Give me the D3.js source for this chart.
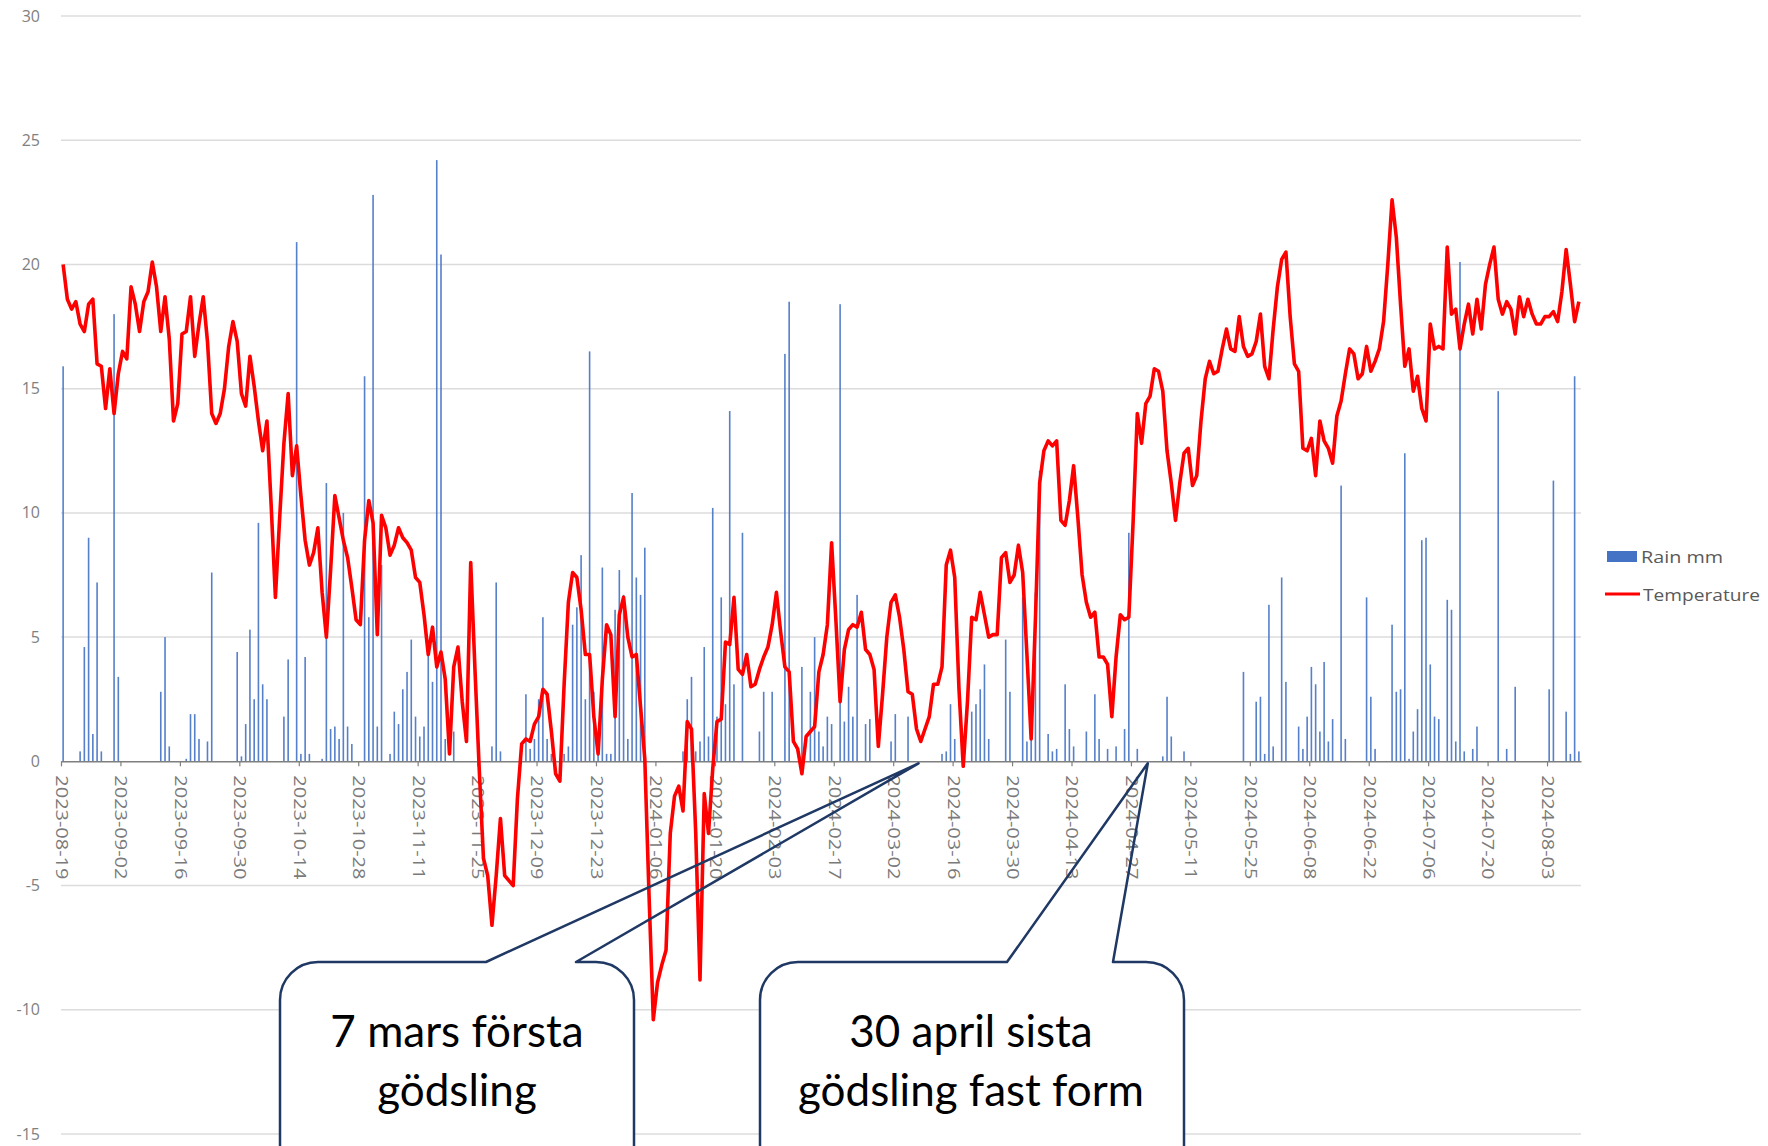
<!DOCTYPE html>
<html>
<head>
<meta charset="utf-8">
<script src="https://cdn.jsdelivr.net/npm/d3@7"></script>
<style>
  body { margin: 0; background: #fff; }
  svg { display: block; }
</style>
</head>
<body>
<script>
// daily values from 2023-08-19, one row = two weeks
var startDate = "2023-08-19";

var temperature = [
  20.0, 18.6, 18.2, 18.5, 17.6, 17.3, 18.4, 18.6, 16.0, 15.9, 14.2, 15.8, 14.0, 15.6,
  16.5, 16.2, 19.1, 18.4, 17.3, 18.5, 18.9, 20.1, 19.1, 17.3, 18.7, 17.0, 13.7, 14.4,
  17.2, 17.3, 18.7, 16.3, 17.6, 18.7, 16.9, 14.0, 13.6, 14.0, 15.0, 16.7, 17.7, 16.9,
  14.8, 14.3, 16.3, 15.1, 13.7, 12.5, 13.7, 10.3, 6.6, 9.8, 12.8, 14.8, 11.5, 12.7,
  10.7, 8.9, 7.9, 8.4, 9.4, 6.8, 5.0, 7.7, 10.7, 9.8, 8.9, 8.2, 7.0, 5.7,
  5.5, 8.9, 10.5, 9.6, 5.1, 9.9, 9.4, 8.3, 8.7, 9.4, 9.0, 8.8, 8.5, 7.4,
  7.2, 5.9, 4.3, 5.4, 3.8, 4.4, 3.3, 0.3, 3.8, 4.6, 2.4, 0.8, 8.0, 3.7,
  -0.3, -3.9, -4.6, -6.6, -4.6, -2.3, -4.6, -4.8, -5.0, -1.5, 0.7, 0.9, 0.8, 1.5,
  1.8, 2.9, 2.7, 1.2, -0.5, -0.8, 3.1, 6.4, 7.6, 7.4, 6.1, 4.3, 4.3, 1.8,
  0.3, 3.3, 5.5, 5.1, 1.8, 5.9, 6.6, 5.0, 4.2, 4.3, 2.2, 0.1, -5.4, -10.4,
  -8.9, -8.2, -7.6, -2.9, -1.4, -1.0, -2.0, 1.6, 1.3, -2.9, -8.8, -1.3, -2.9, -0.3,
  1.6, 1.7, 4.8, 4.7, 6.6, 3.7, 3.5, 4.3, 3.0, 3.1, 3.7, 4.2, 4.6, 5.5,
  6.8, 5.2, 3.8, 3.6, 0.8, 0.5, -0.5, 1.0, 1.2, 1.4, 3.6, 4.3, 5.5, 8.8,
  5.7, 2.4, 4.5, 5.3, 5.5, 5.4, 6.0, 4.5, 4.3, 3.7, 0.6, 2.7, 5.0, 6.4,
  6.7, 5.8, 4.5, 2.8, 2.7, 1.3, 0.8, 1.3, 1.8, 3.1, 3.1, 3.8, 7.9, 8.5,
  7.4, 2.9, -0.2, 2.4, 5.8, 5.7, 6.8, 5.9, 5.0, 5.1, 5.1, 8.2, 8.4, 7.2,
  7.5, 8.7, 7.6, 4.3, 0.9, 5.7, 11.2, 12.5, 12.9, 12.7, 12.9, 9.7, 9.5, 10.5,
  11.9, 9.8, 7.5, 6.4, 5.8, 6.0, 4.2, 4.2, 3.9, 1.8, 4.2, 5.9, 5.7, 5.8,
  9.6, 14.0, 12.8, 14.4, 14.7, 15.8, 15.7, 14.9, 12.5, 11.2, 9.7, 11.2, 12.4, 12.6,
  11.1, 11.5, 13.7, 15.4, 16.1, 15.6, 15.7, 16.6, 17.4, 16.6, 16.5, 17.9, 16.7, 16.3,
  16.4, 16.9, 18.0, 15.9, 15.4, 17.4, 19.1, 20.2, 20.5, 17.9, 16.0, 15.7, 12.6, 12.5,
  13.0, 11.5, 13.7, 12.9, 12.6, 12.0, 13.9, 14.5, 15.6, 16.6, 16.4, 15.4, 15.6, 16.7,
  15.7, 16.1, 16.6, 17.7, 20.0, 22.6, 21.1, 18.4, 15.9, 16.6, 14.9, 15.5, 14.2, 13.7,
  17.6, 16.6, 16.7, 16.6, 20.7, 18.0, 18.2, 16.6, 17.6, 18.4, 17.2, 18.6, 17.4, 19.2,
  20.0, 20.7, 18.6, 18.0, 18.5, 18.2, 17.2, 18.7, 17.9, 18.6, 18.0, 17.6, 17.6, 17.9,
  17.9, 18.1, 17.7, 18.9, 20.6, 19.2, 17.7, 18.5
];

var rainMm = [
  15.9, 0, 0, 0, 0.4, 4.6, 9.0, 1.1, 7.2, 0.4, 0, 0, 18.0, 3.4,
  0, 0, 0, 0, 0, 0, 0, 0, 0, 2.8, 5.0, 0.6, 0, 0,
  0, 0.1, 1.9, 1.9, 0.9, 0, 0.8, 7.6, 0, 0, 0, 0, 0, 4.4,
  0.2, 1.5, 5.3, 2.5, 9.6, 3.1, 2.5, 0, 0, 0, 1.8, 4.1, 0, 20.9,
  0.3, 4.2, 0.3, 0, 0, 0.1, 11.2, 1.3, 1.4, 0.9, 10.0, 1.4, 0.7, 0,
  0, 15.5, 5.8, 22.8, 1.4, 7.9, 0, 0.3, 2.0, 1.5, 2.9, 3.6, 4.9, 1.8,
  1.0, 1.4, 4.5, 3.2, 24.2, 20.4, 0.9, 0, 1.2, 0, 0, 0, 0, 0,
  0, 0, 0, 0.6, 7.2, 0.4, 0, 0, 0, 0, 0, 2.7, 0.5, 0.9,
  2.5, 5.8, 0.9, 0.3, 0, 0, 0.3, 0.6, 5.5, 6.2, 8.3, 2.5, 16.5, 2.8,
  0.5, 7.8, 0.3, 0.3, 6.1, 7.7, 6.7, 0.9, 10.8, 7.4, 6.7, 8.6, 0, 0,
  0, 0, 0, 0, 0, 0, 0.4, 2.5, 3.4, 0.4, 0.8, 4.6, 1.0, 10.2,
  1.8, 6.6, 2.3, 14.1, 3.1, 0, 9.2, 0, 0, 0, 1.2, 2.8, 0, 2.8,
  0, 0, 16.4, 18.5, 0, 0, 3.8, 0, 2.8, 5.0, 1.2, 0.6, 1.8, 1.5,
  0, 18.4, 1.6, 3.0, 1.8, 6.7, 0, 1.5, 1.7, 0, 0, 0, 0, 0.8,
  1.9, 0, 0, 1.8, 0, 0, 0, 0, 0, 0, 0, 0.3, 0.4, 2.3,
  0.9, 0, 0, 0, 2.0, 2.3, 2.9, 3.9, 0.9, 0, 0, 0, 4.9, 2.8,
  0, 0, 6.6, 0.8, 0.9, 6.8, 11.7, 0, 1.1, 0.4, 0.5, 0, 3.1, 1.3,
  0.6, 0, 0, 1.2, 0, 2.7, 0.9, 0, 0.5, 0, 0.6, 0, 1.3, 9.2,
  0, 0.5, 0, 0, 0, 0, 0, 0.2, 2.6, 1.0, 0, 0, 0.4, 0,
  0, 0, 0, 0, 0, 0, 0, 0, 0, 0, 0, 0, 3.6, 0,
  0, 2.4, 2.6, 0.3, 6.3, 0.6, 0, 7.4, 3.2, 0, 0, 1.4, 0.5, 1.8,
  3.8, 3.1, 1.2, 4.0, 0.8, 1.7, 0, 11.1, 0.9, 0, 0, 0, 0, 6.6,
  2.6, 0.5, 0, 0, 0, 5.5, 2.8, 2.9, 12.4, 0.1, 1.2, 2.1, 8.9, 9.0,
  3.9, 1.8, 1.7, 0, 6.5, 6.1, 0.8, 20.1, 0.4, 0, 0.5, 1.4, 0, 0,
  0, 0, 14.9, 0, 0.5, 0, 3.0, 0, 0, 0, 0, 0, 0, 0,
  2.9, 11.3, 0, 0, 2.0, 0.3, 15.5, 0.4
];

var xTickLabels = ["2023-08-19", "2023-09-02", "2023-09-16", "2023-09-30", "2023-10-14",
  "2023-10-28", "2023-11-11", "2023-11-25", "2023-12-09", "2023-12-23", "2024-01-06",
  "2024-01-20", "2024-02-03", "2024-02-17", "2024-03-02", "2024-03-16", "2024-03-30",
  "2024-04-13", "2024-04-27", "2024-05-11", "2024-05-25", "2024-06-08", "2024-06-22",
  "2024-07-06", "2024-07-20", "2024-08-03"];
var yTicks = [30, 25, 20, 15, 10, 5, 0, -5, -10, -15];
var seriesNames = ["Rain mm", "Temperature"];

var callouts = [
  { lines: ["7 mars första", "gödsling"], date: "2024-03-07" },
  { lines: ["30 april sista", "gödsling fast form"], date: "2024-04-30" }
];

var W = 1768, H = 1146;
var parse = d3.utcParse("%Y-%m-%d");
var day0 = parse(startDate);
var DAY = 864e5;

var x = d3.scaleUtc()
  .domain([day0, new Date(+day0 + temperature.length * DAY)])
  .range([61, 1581]);
var y = d3.scaleLinear().domain([-15, 30]).range([1134, 16]);

// points sit in the middle of their day
var xDay = function(i) { return x(new Date(+day0 + (i + 0.5) * DAY)); };

var svg = d3.select("body").append("svg")
  .attr("width", W).attr("height", H)
  .attr("font-family", "'Open Sans', sans-serif");

svg.append("rect").attr("width", W).attr("height", H).attr("fill", "#fff");

// grid
svg.append("g").selectAll("line")
  .data(yTicks.filter(function(d) { return d !== 0; }))
  .join("line")
    .attr("x1", 61).attr("x2", 1581)
    .attr("y1", function(d) { return y(d); })
    .attr("y2", function(d) { return y(d); })
    .attr("stroke", "#dcdcdc")
    .attr("stroke-width", 1.5);

svg.append("g").selectAll("text")
  .data(yTicks)
  .join("text")
    .attr("x", 40)
    .attr("y", function(d) { return y(d); })
    .attr("dy", "0.35em")
    .attr("text-anchor", "end")
    .attr("font-size", 16)
    .attr("fill", "#808080")
    .text(function(d) { return d; });

// rain bars
svg.append("g").selectAll("rect")
  .data(rainMm.map(function(v, i) { return { i: i, v: v }; }).filter(function(d) { return d.v > 0; }))
  .join("rect")
    .attr("x", function(d) { return xDay(d.i) - 0.8; })
    .attr("width", 1.6)
    .attr("y", function(d) { return y(d.v); })
    .attr("height", function(d) { return y(0) - y(d.v); })
    .attr("fill", "#4472c4")
    .attr("fill-opacity", 0.9);

// x axis
var xAxis = d3.axisBottom(x)
  .tickValues(xTickLabels.map(parse))
  .tickFormat(d3.utcFormat("%Y-%m-%d"))
  .tickSize(5)
  .tickSizeOuter(0);

var ax = svg.append("g")
  .attr("transform", "translate(0," + y(0) + ")")
  .call(xAxis);
ax.select(".domain").attr("stroke", "#7f7f7f").attr("stroke-width", 1.5);
ax.selectAll(".tick line").attr("stroke", "#7f7f7f").attr("stroke-width", 1.2);
ax.selectAll(".tick text")
  .attr("font-family", "'Open Sans', sans-serif")
  .attr("font-size", 16)
  .attr("fill", "#7a7a7a")
  .attr("text-anchor", "start")
  .attr("transform", "rotate(90)")
  .attr("x", 14)
  .attr("y", 0)
  .attr("dy", "0.35em")
  .attr("textLength", 104)
  .attr("lengthAdjust", "spacingAndGlyphs");

// temperature line
var line = d3.line()
  .x(function(d, i) { return xDay(i); })
  .y(function(d) { return y(d); });

svg.append("path")
  .datum(temperature)
  .attr("d", line)
  .attr("fill", "none")
  .attr("stroke", "#ff0000")
  .attr("stroke-width", 3.6)
  .attr("stroke-linejoin", "round");

// legend
var lg = svg.append("g").attr("font-size", 17).attr("fill", "#595959");
lg.append("rect").attr("x", 1607).attr("y", 551).attr("width", 30).attr("height", 11).attr("fill", "#4472c4");
lg.append("text").attr("x", 1641).attr("y", 563).attr("textLength", 82)
  .attr("lengthAdjust", "spacingAndGlyphs").text(seriesNames[0]);
lg.append("line").attr("x1", 1605).attr("x2", 1640).attr("y1", 594).attr("y2", 594)
  .attr("stroke", "#ff0000").attr("stroke-width", 3);
lg.append("text").attr("x", 1643).attr("y", 601).attr("textLength", 117)
  .attr("lengthAdjust", "spacingAndGlyphs").text(seriesNames[1]);

// callouts
var boxes = [
  { left: 280, right: 634, top: 962, baseA: 486, baseB: 576, cx: 457 },
  { left: 760, right: 1184, top: 962, baseA: 1007, baseB: 1113, cx: 971 }
];
var r = 38, bottom = 1200;

callouts.forEach(function(c, k) {
  var b = boxes[k];
  var di = Math.round((parse(c.date) - day0) / DAY);
  var tipX = xDay(di) + 2;
  var tipY = y(0) + 2;
  var g = svg.append("g");
  g.append("path")
    .attr("d", "M" + b.left + "," + bottom + "V" + (b.top + r) +
      "A" + r + "," + r + " 0 0 1 " + (b.left + r) + "," + b.top +
      "H" + (b.right - r) +
      "A" + r + "," + r + " 0 0 1 " + b.right + "," + (b.top + r) +
      "V" + bottom + "Z")
    .attr("fill", "#fff");
  g.append("path")
    .attr("d", "M" + b.left + "," + bottom + "V" + (b.top + r) +
      "A" + r + "," + r + " 0 0 1 " + (b.left + r) + "," + b.top +
      "H" + b.baseA + "L" + tipX + "," + tipY + "L" + b.baseB + "," + b.top +
      "H" + (b.right - r) +
      "A" + r + "," + r + " 0 0 1 " + b.right + "," + (b.top + r) +
      "V" + bottom)
    .attr("fill", "none")
    .attr("stroke", "#1f3864")
    .attr("stroke-width", 2.5)
    .attr("stroke-linejoin", "round");
  g.selectAll("text")
    .data(c.lines)
    .join("text")
      .attr("x", b.cx)
      .attr("y", function(d, i) { return 1047 + i * 58.5; })
      .attr("text-anchor", "middle")
      .attr("font-family", "Lato, sans-serif")
      .attr("font-size", 44)
      .attr("fill", "#000")
      .text(function(d) { return d; });
});
</script>
</body>
</html>
